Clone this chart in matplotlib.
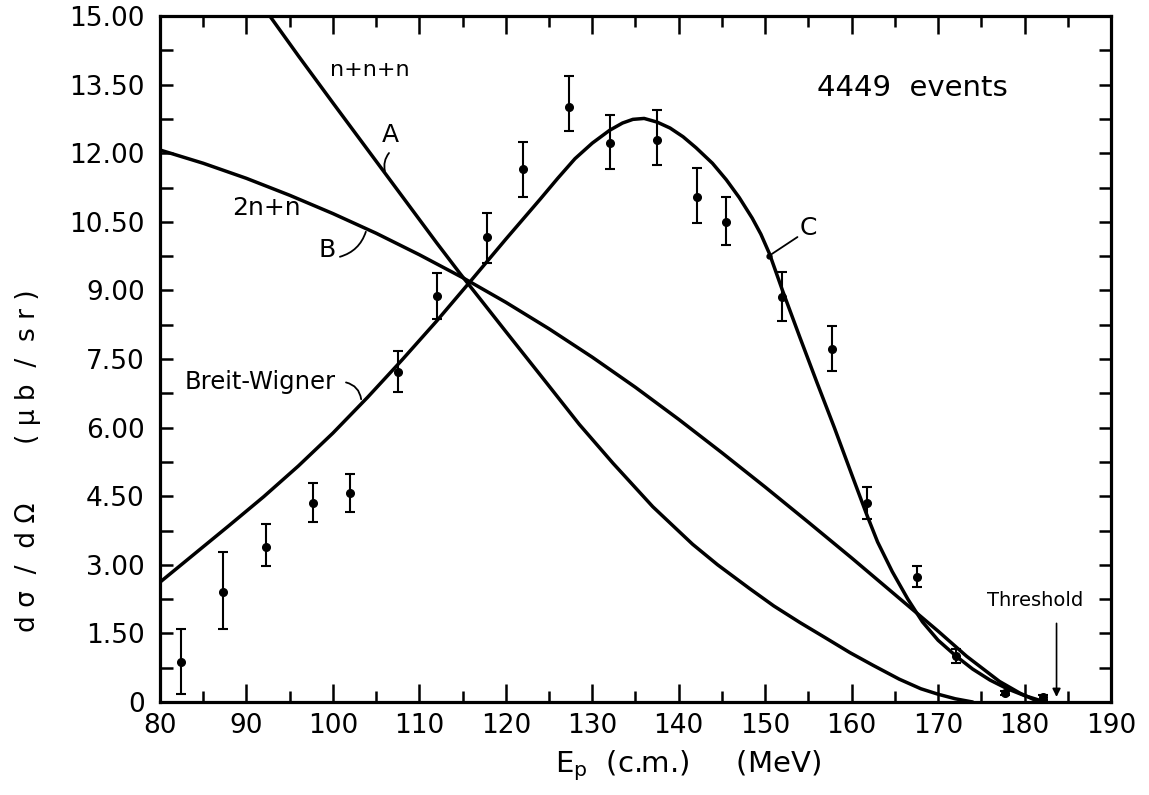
import matplotlib
matplotlib.use("Agg")
import matplotlib.pyplot as plt
from matplotlib.ticker import MultipleLocator, FixedLocator, FuncFormatter

plt.rcParams['font.family'] = ['DejaVu Sans']

# ---- data ----
energy = [82.4, 87.3, 92.3, 97.7, 102.0, 107.5, 112.0, 117.8, 122.0, 127.3,
          132.0, 137.5, 142.1, 145.5, 152.0, 157.7, 161.8, 167.6, 172.1,
          177.7, 182.1]
xsec = [0.87, 2.41, 3.39, 4.35, 4.57, 7.22, 8.88, 10.17, 11.66, 13.02,
        12.23, 12.29, 11.05, 10.50, 8.86, 7.72, 4.35, 2.73, 1.00,
        0.20, 0.10]
err_low = [0.17, 1.60, 2.97, 3.94, 4.15, 6.78, 8.37, 9.60, 11.05, 12.49,
           11.66, 11.75, 10.48, 9.99, 8.33, 7.24, 4.00, 2.51, 0.85,
           0.15, 0.05]
err_high = [1.60, 3.28, 3.89, 4.79, 4.99, 7.68, 9.38, 10.69, 12.25, 13.68,
            12.84, 12.95, 11.68, 11.05, 9.40, 8.22, 4.70, 2.97, 1.15,
            0.25, 0.15]

# curve A: n+n+n
curveA_x = [92.7, 96.0, 100.0, 104.0, 108.0, 112.0, 114.7, 117.0, 120.0,
            124.7, 128.5, 132.4, 137.0, 141.6, 144.5, 148.2, 151.0, 154.0,
            157.0, 159.8, 162.5, 165.5, 168.0, 170.0, 172.0, 174.0]
curveA_y = [15.0, 14.13, 13.10, 12.08, 11.06, 10.04, 9.37, 8.82, 8.10,
            6.98, 6.07, 5.22, 4.27, 3.45, 3.00, 2.48, 2.10, 1.74,
            1.40, 1.08, 0.80, 0.50, 0.29, 0.17, 0.07, 0.0]

# curve B: 2n+n
curveB_x = [80.0, 85.0, 90.0, 95.0, 100.0, 105.0, 110.0, 115.0, 120.0,
            125.0, 130.0, 135.0, 140.0, 145.0, 150.0, 155.0, 160.0, 165.0,
            170.0, 173.3, 177.1, 179.5, 181.7]
curveB_y = [12.07, 11.78, 11.45, 11.08, 10.68, 10.25, 9.78, 9.28, 8.74,
            8.16, 7.54, 6.88, 6.18, 5.45, 4.70, 3.93, 3.15, 2.35,
            1.55, 1.00, 0.45, 0.19, 0.0]

# curve C: Breit-Wigner
curveC_x = [80.0, 84.0, 88.0, 92.0, 96.0, 100.0, 104.0, 108.0, 112.0,
            116.0, 120.0, 124.0, 126.0, 128.0, 130.0, 132.0, 133.5, 134.7,
            136.0, 137.5, 139.0, 140.5, 142.0, 143.9, 145.5, 147.0, 148.5,
            149.5, 150.5, 152.0, 154.0, 156.0, 158.0, 160.0, 161.7, 163.0,
            164.7, 166.5, 168.2, 170.0, 172.1, 174.0, 176.0, 178.0, 180.0,
            181.7]
curveC_y = [2.62, 3.24, 3.86, 4.49, 5.16, 5.88, 6.66, 7.48, 8.33,
            9.22, 10.12, 11.00, 11.45, 11.88, 12.22, 12.50, 12.66, 12.74,
            12.76, 12.68, 12.55, 12.36, 12.12, 11.78, 11.42, 11.03, 10.58,
            10.23, 9.80, 9.00, 7.98, 6.98, 6.00, 4.98, 4.12, 3.50,
            2.85, 2.25, 1.75, 1.35, 1.00, 0.72, 0.48, 0.29, 0.14,
            0.04]

yticks = [0, 1.5, 3.0, 4.5, 6.0, 7.5, 9.0, 10.5, 12.0, 13.5, 15.0]
xticks = [80, 90, 100, 110, 120, 130, 140, 150, 160, 170, 180, 190]

# ---- figure ----
fig = plt.figure(figsize=(11.49, 7.95), dpi=100)
ax = fig.add_axes([160 / 1149, 93 / 795, 951 / 1149, 686 / 795])
ax.set_xlim(80, 190)
ax.set_ylim(0, 15)

lw = 2.5
for cx, cy in [(curveA_x, curveA_y), (curveB_x, curveB_y), (curveC_x, curveC_y)]:
    ax.plot(cx, cy, color='black', lw=lw, solid_capstyle='round',
            solid_joinstyle='round')

yerr = [[v - lo for v, lo in zip(xsec, err_low)],
        [hi - v for v, hi in zip(xsec, err_high)]]
ax.errorbar(energy, xsec, yerr=yerr, fmt='o', color='black', ms=5.5,
            elinewidth=1.5, capsize=3.5, capthick=1.5, zorder=5)

for s in ax.spines.values():
    s.set_linewidth(2.3)

ax.xaxis.set_major_locator(FixedLocator(xticks))
ax.xaxis.set_minor_locator(MultipleLocator(5))
ax.yaxis.set_major_locator(FixedLocator(yticks))
ax.yaxis.set_minor_locator(MultipleLocator(0.75))
ax.yaxis.set_major_formatter(FuncFormatter(lambda v, p: '0' if v == 0 else f'{v:.2f}'))
ax.tick_params(axis='both', which='both', direction='in', top=True, right=True,
               width=1.8, labelsize=19)
ax.tick_params(axis='x', which='major', length=13, pad=8)
ax.tick_params(axis='x', which='minor', length=8)
ax.tick_params(axis='y', which='major', length=9, pad=11)
ax.tick_params(axis='y', which='minor', length=9)

# ---- labels ----
fig.text(28 / 1149, 1 - 461 / 795,
         'd \u03c3  /  d \u03a9       ( \u03bc b  /  s r )',
         rotation=90, ha='center', va='center', fontsize=19)
fig.text(688 / 1149, 1 - 766 / 795, r'E$_{\rm p}$  (c.m.)     (MeV)',
         ha='center', va='center', fontsize=21)

ax.text(99.7, 13.82, 'n+n+n', fontsize=16, ha='left', va='center')
ax.text(106.7, 12.4, 'A', fontsize=18, ha='center', va='center')
ax.annotate('', xy=(106.1, 11.55), xytext=(106.7, 12.05),
            arrowprops=dict(arrowstyle='-', lw=1.3, connectionstyle='arc3,rad=0.3'))
ax.text(92.3, 10.8, '2n+n', fontsize=18, ha='center', va='center')
ax.text(99.3, 9.88, 'B', fontsize=18, ha='center', va='center')
ax.annotate('', xy=(103.9, 10.34), xytext=(100.5, 9.72),
            arrowprops=dict(arrowstyle='-', lw=1.3, connectionstyle='arc3,rad=0.3'))
ax.text(91.6, 7.0, 'Breit-Wigner', fontsize=17.5, ha='center', va='center')
ax.annotate('', xy=(103.3, 6.56), xytext=(101.2, 7.0),
            arrowprops=dict(arrowstyle='-', lw=1.3, connectionstyle='arc3,rad=-0.4'))
ax.text(155.0, 10.36, 'C', fontsize=18, ha='center', va='center')
ax.annotate('', xy=(150.4, 9.75), xytext=(154.0, 10.2),
            arrowprops=dict(arrowstyle='-', lw=1.3))
ax.plot([150.4], [9.75], 'o', color='black', ms=3.5)
ax.text(167.0, 13.43, '4449  events', fontsize=21, ha='center', va='center')

ax.text(181.2, 2.23, 'Threshold', fontsize=14, ha='center', va='center')
ax.annotate('', xy=(183.7, 0.05), xytext=(183.7, 1.78),
            arrowprops=dict(arrowstyle='-|>', lw=1.2, color='black',
                            mutation_scale=12))

fig.savefig('out.png', dpi=100, facecolor='white')
